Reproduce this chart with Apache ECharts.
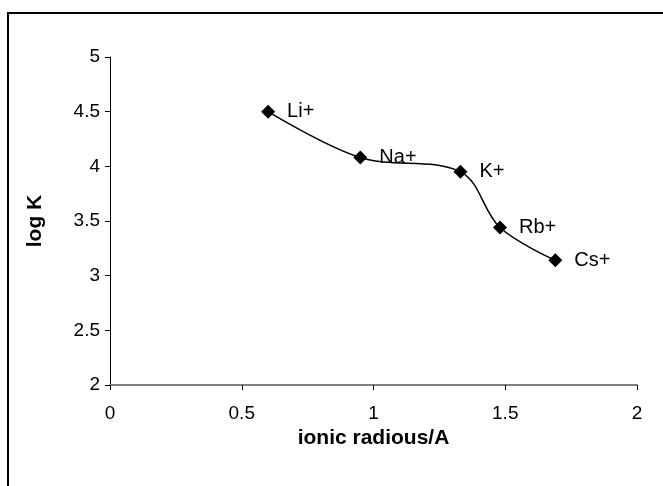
<!DOCTYPE html>
<html>
<head>
<meta charset="utf-8">
<script src="https://cdn.jsdelivr.net/npm/echarts@6/dist/echarts.min.js"></script>
<style>
  html, body { margin: 0; padding: 0; background: #fff; }
  #chart { width: 663px; height: 486px; }
</style>
</head>
<body>
<div id="chart"></div>
<script>
// ion data
const ions = ['Li+', 'Na+', 'K+', 'Rb+', 'Cs+'];
const radius = [0.60, 0.95, 1.33, 1.48, 1.69];
const logK = [4.50, 4.08, 3.95, 3.44, 3.14];

const xTicks = [0, 0.5, 1, 1.5, 2];
const yTicks = [2, 2.5, 3, 3.5, 4, 4.5, 5];

(function () {
    const chart = echarts.init(document.getElementById('chart'));
    const font = 'Liberation Sans, Arial, sans-serif';

    const points = radius.map((r, i) => ({ value: [r, logK[i]], name: ions[i] }));

    chart.setOption({
        animation: false,
        backgroundColor: '#fff',
        graphic: [
            {
                // frame of the chart area (only top and left edge are visible)
                type: 'rect',
                shape: { x: 8, y: 13, width: 720, height: 520 },
                style: { fill: null, stroke: '#000', lineWidth: 2 },
                silent: true
            }
        ],
        grid: { left: 110, right: 26, top: 57, bottom: 101 },
        xAxis: {
            type: 'value',
            min: xTicks[0],
            max: xTicks[xTicks.length - 1],
            interval: 0.5,
            name: 'ionic radious/A',
            nameLocation: 'middle',
            nameGap: 42,
            nameTextStyle: { fontFamily: font, fontSize: 21, fontWeight: 'bold', color: '#000' },
            axisLine: { lineStyle: { color: '#808080', width: 2 } },
            axisTick: { inside: false, length: 5, lineStyle: { color: '#000' } },
            axisLabel: { fontFamily: font, fontSize: 19, color: '#000', margin: 19 },
            splitLine: { show: false }
        },
        yAxis: {
            type: 'value',
            min: yTicks[0],
            max: yTicks[yTicks.length - 1],
            interval: 0.5,
            name: 'log K',
            nameLocation: 'middle',
            nameGap: 64,
            nameRotate: 90,
            nameTextStyle: { fontFamily: font, fontSize: 21, fontWeight: 'bold', color: '#000' },
            axisLine: { show: true, lineStyle: { color: '#000', width: 1 } },
            axisTick: { show: true, length: 5, lineStyle: { color: '#000' } },
            axisLabel: { fontFamily: font, fontSize: 19, color: '#000', margin: 10 },
            splitLine: { show: false }
        },
        series: [
            {
                type: 'line',
                data: points,
                smooth: 0.35,
                symbol: 'diamond',
                symbolSize: 14,
                itemStyle: { color: '#000' },
                lineStyle: { color: '#000', width: 1.5 },
                label: {
                    show: true,
                    position: 'right',
                    distance: 12,
                    formatter: p => p.name,
                    fontFamily: font,
                    fontSize: 20,
                    color: '#000'
                }
            }
        ]
    });
})();
</script>
</body>
</html>
